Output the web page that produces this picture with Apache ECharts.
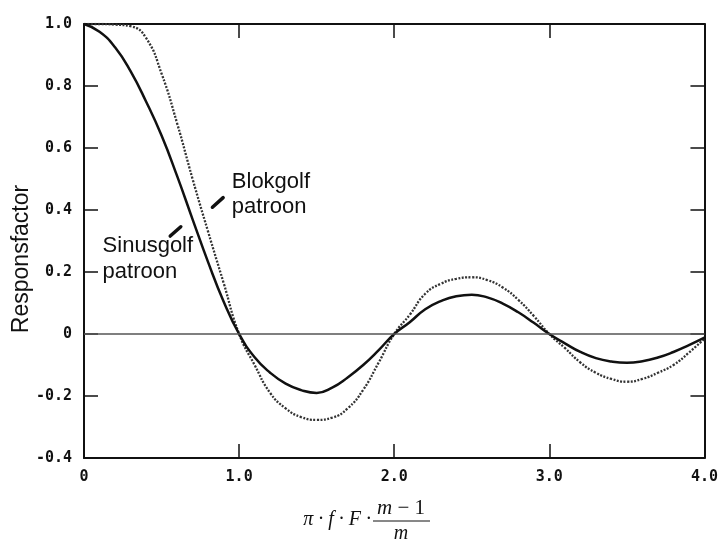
<!DOCTYPE html>
<html>
<head>
<meta charset="utf-8">
<script src="https://cdn.jsdelivr.net/npm/echarts@6/dist/echarts.min.js"></script>
<style>
  html, body { margin: 0; padding: 0; background: #fff; }
  #main { width: 721px; height: 541px; }
</style>
</head>
<body>
<div id="main"></div>
<script>
// x = pi * f * F * (m-1)/m
var xValues = [0, 0.1, 0.2, 0.3, 0.4, 0.5, 0.6, 0.7, 0.8, 0.9,
  1.0, 1.1, 1.2, 1.3, 1.4, 1.5, 1.6, 1.7, 1.8, 1.9,
  2.0, 2.1, 2.2, 2.3, 2.4, 2.5, 2.6, 2.7, 2.8, 2.9,
  3.0, 3.1, 3.2, 3.3, 3.4, 3.5, 3.6, 3.7, 3.8, 3.9, 4.0]

// responsfactor
var sinusgolf = [1.0, 0.975, 0.925, 0.848, 0.75, 0.64, 0.51, 0.37, 0.232, 0.105,
  0.0, -0.075, -0.125, -0.16, -0.181, -0.19, -0.173, -0.14, -0.1, -0.052,
  0.0, 0.038, 0.08, 0.106, 0.122, 0.127, 0.118, 0.098, 0.07, 0.036,
  0.0, -0.03, -0.058, -0.078, -0.089, -0.093, -0.088, -0.076, -0.058, -0.036, -0.012]

var blokgolf = [1.0, 1.0, 0.998, 0.993, 0.955, 0.84, 0.68, 0.5, 0.33, 0.165,
  0.0, -0.1, -0.19, -0.24, -0.268, -0.277, -0.27, -0.24, -0.18, -0.092,
  0.0, 0.062, 0.13, 0.162, 0.178, 0.183, 0.174, 0.15, 0.11, 0.058,
  0.0, -0.045, -0.092, -0.125, -0.145, -0.154, -0.145, -0.125, -0.1, -0.06, -0.015]

var xTickLabels = ['0', '1.0', '2.0', '3.0', '4.0']
var yTickLabels = ['-0.4', '-0.2', '0', '0.2', '0.4', '0.6', '0.8', '1.0']

// label pointers, in data units [x0, y0, x1, y1]
var blokPointer = [0.828, 0.409, 0.897, 0.44]
var sinusPointer = [0.556, 0.316, 0.624, 0.346]

function pairs (ys) {
  return xValues.map(function (x, i) { return [x, ys[i]] })
}

var tickFont = {
  color: '#111',
  fontFamily: 'DejaVu Sans Mono',
  fontWeight: 'bold',
  fontSize: 15
}
var axisLine = { show: true, onZero: false, lineStyle: { color: '#111', width: 2 } }
var axisTick = { show: true, inside: true, length: 14, lineStyle: { color: '#111', width: 1.5 } }

var chart = echarts.init(document.getElementById('main'))

chart.setOption({
  animation: false,
  backgroundColor: '#fff',
  grid: { left: 84, right: 13, top: 24, bottom: 83 },
  xAxis: [{
    type: 'value',
    min: 0,
    max: 4,
    interval: 1,
    axisLine: axisLine,
    axisTick: axisTick,
    splitLine: { show: false },
    axisLabel: Object.assign({
      margin: 12,
      formatter: function (v) { return xTickLabels[Math.round(v)] }
    }, tickFont)
  }, {
    type: 'value',
    position: 'top',
    min: 0,
    max: 4,
    interval: 1,
    axisLine: axisLine,
    axisTick: axisTick,
    axisLabel: { show: false },
    splitLine: { show: false }
  }],
  yAxis: [{
    type: 'value',
    min: -0.4,
    max: 1,
    interval: 0.2,
    axisLine: axisLine,
    axisTick: axisTick,
    splitLine: { show: false },
    axisLabel: Object.assign({
      margin: 12,
      formatter: function (v) { return yTickLabels[Math.round((v + 0.4) / 0.2)] }
    }, tickFont)
  }, {
    type: 'value',
    position: 'right',
    min: -0.4,
    max: 1,
    interval: 0.2,
    axisLine: axisLine,
    axisTick: axisTick,
    axisLabel: { show: false },
    splitLine: { show: false }
  }],
  series: [{
    name: 'Sinusgolf patroon',
    type: 'line',
    smooth: true,
    symbol: 'none',
    lineStyle: { color: '#111', width: 2.5 },
    data: pairs(sinusgolf),
    z: 3,
    markLine: {
      silent: true,
      symbol: ['none', 'none'],
      label: { show: false },
      lineStyle: { color: '#555', width: 1.5, type: 'solid' },
      data: [{ yAxis: 0 }]
    }
  }, {
    name: 'Blokgolf patroon',
    type: 'line',
    smooth: true,
    symbol: 'none',
    lineStyle: { color: '#333', width: 2.3, type: [2, 1.5] },
    data: pairs(blokgolf),
    z: 2
  }]
})

function px (x, y) {
  return chart.convertToPixel({ xAxisIndex: 0, yAxisIndex: 0 }, [x, y])
}

function pointer (p) {
  var a = px(p[0], p[1])
  var b = px(p[2], p[3])
  return {
    type: 'line',
    shape: { x1: a[0], y1: a[1], x2: b[0], y2: b[1] },
    style: { stroke: '#111', lineWidth: 3.5, lineCap: 'round' }
  }
}

var labelFont = '22px "Liberation Sans", Arial, sans-serif'
var mathFont = 'italic 20px "Liberation Serif", "Times New Roman", serif'
var blokPos = px(0.953, 0.532)
var sinusPos = px(0.12, 0.325)

chart.setOption({
  graphic: [
    pointer(blokPointer),
    pointer(sinusPointer),
    {
      type: 'text',
      x: blokPos[0],
      y: blokPos[1],
      style: { text: 'Blokgolf\npatroon', font: labelFont, fill: '#111', lineHeight: 25 }
    },
    {
      type: 'text',
      x: sinusPos[0],
      y: sinusPos[1],
      style: { text: 'Sinusgolf\npatroon', font: labelFont, fill: '#111', lineHeight: 26 }
    },
    {
      type: 'text',
      x: 22,
      y: 259,
      rotation: Math.PI / 2,
      style: {
        text: 'Responsfactor',
        font: '23px "Liberation Sans", Arial, sans-serif',
        fill: '#111',
        textAlign: 'center',
        textVerticalAlign: 'middle'
      }
    },
    {
      type: 'text',
      x: 371,
      y: 520,
      style: {
        text: 'π · f · F ·',
        font: mathFont,
        fill: '#111',
        textAlign: 'right',
        textVerticalAlign: 'middle'
      }
    },
    {
      type: 'text',
      x: 401,
      y: 508,
      style: {
        text: '{i|m} − 1',
        font: '21px "Liberation Serif", serif',
        fill: '#111',
        textAlign: 'center',
        textVerticalAlign: 'middle',
        rich: { i: { fontStyle: 'italic', fontFamily: 'Liberation Serif', fontSize: 21 } }
      }
    },
    {
      type: 'line',
      shape: { x1: 373, y1: 521, x2: 430, y2: 521 },
      style: { stroke: '#111', lineWidth: 1 }
    },
    {
      type: 'text',
      x: 401,
      y: 534,
      style: {
        text: 'm',
        font: mathFont,
        fill: '#111',
        textAlign: 'center',
        textVerticalAlign: 'middle'
      }
    }
  ]
})
</script>
</body>
</html>
